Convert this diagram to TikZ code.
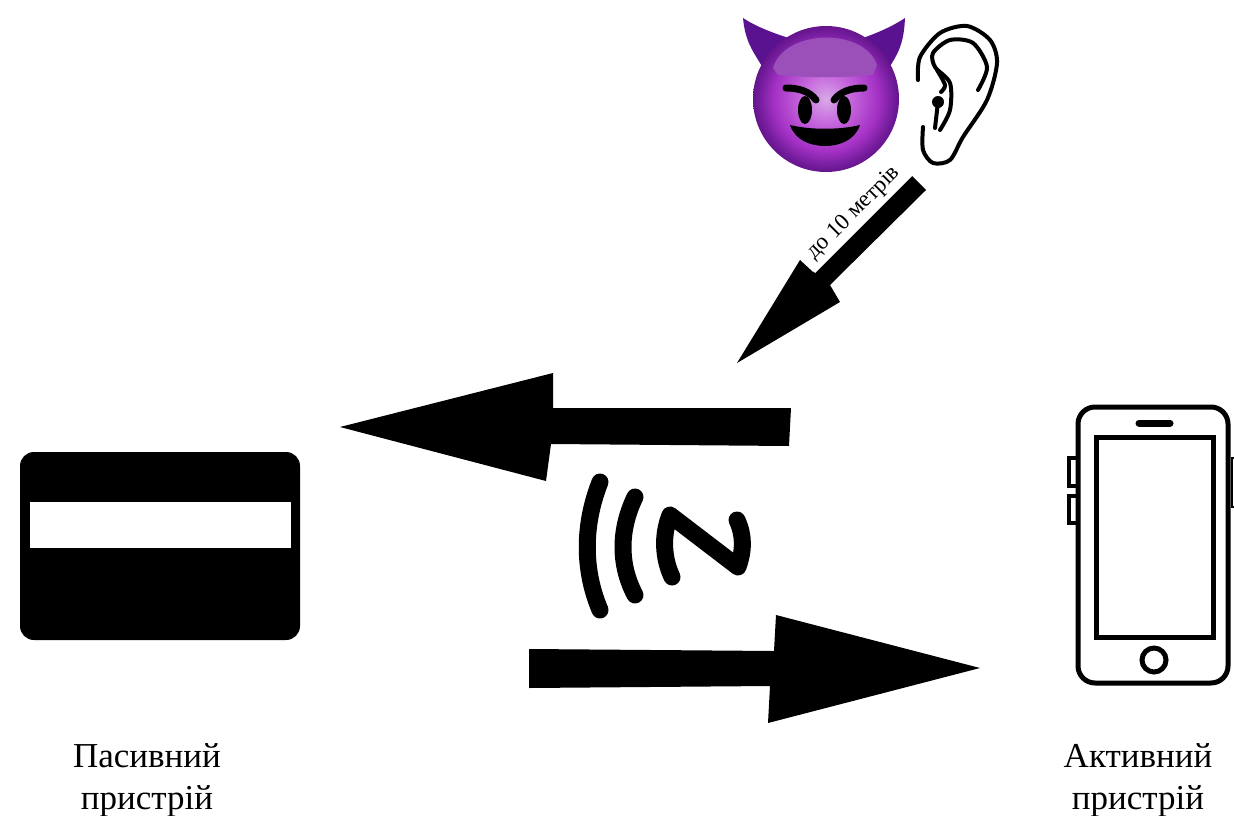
\documentclass[tikz,border=0pt]{standalone}
\usepackage{fontspec}
\setmainfont{Liberation Serif}
\definecolor{devilhorn}{HTML}{5B1290}
\definecolor{devilcap}{HTML}{9A50B8}
\pgfdeclareradialshading{devilshade}{\pgfpoint{0bp}{0bp}}{%
  rgb(0bp)=(0.85,0.66,0.91);
  rgb(9bp)=(0.77,0.39,0.86);
  rgb(18bp)=(0.64,0.19,0.77);
  rgb(23bp)=(0.45,0.11,0.61);
  rgb(25bp)=(0.40,0.08,0.55);
  rgb(50bp)=(0.40,0.08,0.55)}
\begin{document}
\begin{tikzpicture}[x=1pt,y=-1pt]

    \tikzset{
      bigarrow/.style={
        fill=black,
        draw=none,
      },
      outline/.style={
        draw=black,
        line width=5,
      },
      nfcstroke/.style={
        draw=black,
        line width=17,
        line cap=round,
        line join=round,
      },
      earstroke/.style={
        draw=black,
        line width=4,
        line cap=round,
      },
      caption/.style={
        align=center,
        font=\fontsize{35}{42}\selectfont,
      },
      rangelabel/.style={
        fill=white,
        rotate=45,
        minimum width=140,
        minimum height=30,
        inner sep=0pt,
        font=\fontsize{23}{24}\selectfont,
      },
    }

	\useasboundingbox (0,0) rectangle (1234,816);

	% card
	\fill[color={black},rounded corners=14] (20,452) rectangle (300,640);
	\fill[color={white}] (30,502) rectangle (291,548);

	% arrows
	\fill[bigarrow] (791,408)--(553,408)--(553,373)--(340,427)--(546,481)--(551,444)--(789,446)--cycle;
	\fill[bigarrow] (529,649)--(774,651)--(776,615)--(980,668)--(768,723)--(770,686)--(529,688)--cycle;
	\fill[bigarrow] (926,190)--(830,285)--(840,302)--(737,363)--(800,260)--(813,272)--(911,175)--cycle;

	% nfc
	\draw[nfcstroke] (600,482) .. controls (583,525) and (583,570) .. (600,610);
	\draw[nfcstroke] (635,497) .. controls (619,530) and (619,565) .. (635,595);
	\draw[nfcstroke] (672,577) .. controls (663,558) and (662,535) .. (670,515) -- (738,567) .. controls (744,550) and (744,535) .. (737,520);

	% phone
	\draw[outline,rounded corners=17] (1078,407) rectangle (1228,683);
	\draw[outline] (1096,437) rectangle (1213,637);
	\draw[color={black},line width=7,line cap=round] (1139,423)--(1170,423);
	\draw[outline] (1154,660) circle (12);
	\draw[color={black},line width=4] (1078,458)--(1069,458)--(1069,486)--(1078,486);
	\draw[color={black},line width=4] (1078,496)--(1069,496)--(1069,523)--(1078,523);
	\draw[color={black},line width=2] (1234,458)--(1232,458)--(1232,507)--(1234,507);

	% devil
	\fill[color={devilhorn}] (743,18) .. controls (755,26) and (772,33) .. (795,40)--(770,80)--(760,63) .. controls (752,50) and (745,40) .. (743,18)--cycle;
	\fill[color={devilhorn}] (905,18) .. controls (893,26) and (878,33) .. (857,40)--(882,80)--(892,63) .. controls (900,50) and (904,40) .. (905,18)--cycle;
	\shade[shading=devilshade] (826,99) circle (73);
	\fill[color={devilcap}] (773,68) .. controls (785,28) and (865,28) .. (877,65)--(873,75) .. controls (840,78) and (810,78) .. (778,75)--cycle;
	\draw[color={black},line width=7,line cap=round] (786,88) .. controls (800,88) and (810,92) .. (816,100);
	\draw[color={black},line width=7,line cap=round] (864,88) .. controls (850,88) and (840,92) .. (834,100);
	\fill[color={black}] (805,110) ellipse (7 and 14);
	\fill[color={black}] (844,110) ellipse (7 and 14);
	\fill[color={black}] (790,125) .. controls (810,130) and (840,130) .. (860,125) .. controls (855,140) and (840,146) .. (825,146) .. controls (810,146) and (795,140) .. (790,125)--cycle;

	% ear
	\draw[earstroke] plot[smooth] coordinates {(918,80) (920,57) (940,33) (967,26) (990,40) (997,63) (987,100) (963,137) (950,160) (933,163) (923,150) (923,127)};
	\draw[earstroke] plot[smooth] coordinates {(978,90) (987,67) (973,43) (950,40) (933,53) (935,67) (950,83) (950,110) (940,130)};
	\draw[earstroke] plot[smooth] coordinates {(937,70) (945,85) (941,92)};
	\draw[earstroke] (938,102)--(935,128);
	\fill[color={black}] (938,102) circle (6);

	% labels
	\node[rangelabel] (range) at (854,213) {до 10 метрів};
	\node[caption] (passive) at (147,780) {Пасивний\\пристрій};
	\node[caption] (active) at (1138,780) {Активний\\пристрій};

\end{tikzpicture}
\end{document}
